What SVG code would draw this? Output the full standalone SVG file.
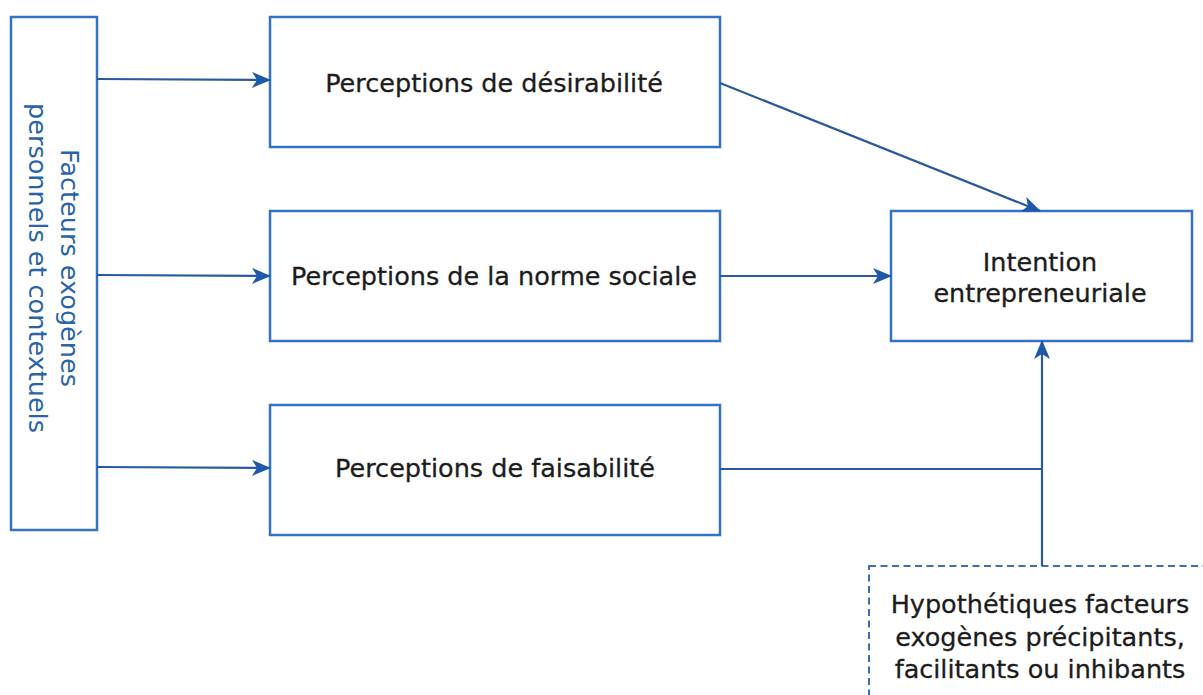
<svg xmlns="http://www.w3.org/2000/svg" width="1203" height="695" viewBox="0 0 1203 695">
<style>
.box{fill:#fff;stroke:#3472c4;stroke-width:2.5}
.dash{fill:#fff;stroke:#3d6fb0;stroke-width:2;stroke-dasharray:7 4.5}
.t{font-family:"DejaVu Sans",Verdana,sans-serif;font-size:25.5px;fill:#1c1c1c;text-anchor:middle;stroke:#1c1c1c;stroke-width:0.3}
.vt{font-family:"DejaVu Sans",Verdana,sans-serif;font-size:25.5px;fill:#2a64a8;text-anchor:middle}
.c{fill:none;stroke:#2a5a9e;stroke-width:2.2}
</style>
<defs>
<marker id="a" viewBox="0 0 19 17" refX="18" refY="8.5" markerWidth="19" markerHeight="17" markerUnits="userSpaceOnUse" orient="auto">
<path d="M0,0.5 L19,8.5 L0,16.5 L5,8.5 Z" fill="#1e58a8"/>
</marker>
</defs>
<rect width="1203" height="695" fill="#fff"/>
<g id="facteurs">
<rect class="box" x="11" y="17" width="86" height="513"/>
<text class="vt" transform="translate(54,268) rotate(90)"><tspan x="0" y="-7">Facteurs exogènes</tspan><tspan x="0" y="25">personnels et contextuels</tspan></text>
</g>
<g id="desirabilite">
<rect class="box" x="270" y="17" width="450" height="130"/>
<text class="t" x="494" y="92">Perceptions de désirabilité</text>
</g>
<g id="norme">
<rect class="box" x="270" y="211" width="450" height="130"/>
<text class="t" x="494" y="285">Perceptions de la norme sociale</text>
</g>
<g id="faisabilite">
<rect class="box" x="270" y="405" width="450" height="130"/>
<text class="t" x="495" y="477">Perceptions de faisabilité</text>
</g>
<g id="intention">
<rect class="box" x="891" y="211" width="301" height="130"/>
<text class="t" x="1040" y="271">Intention</text>
<text class="t" x="1040" y="302">entrepreneuriale</text>
</g>
<g id="hypothetiques">
<rect class="dash" x="869" y="566" width="345" height="140"/>
<text class="t" x="1040" y="613">Hypothétiques facteurs</text>
<text class="t" x="1040" y="646">exogènes précipitants,</text>
<text class="t" x="1040" y="678">facilitants ou inhibants</text>
</g>
<g id="connectors">
<line class="c" x1="97" y1="79" x2="270" y2="80" marker-end="url(#a)"/>
<line class="c" x1="97" y1="275" x2="270" y2="276" marker-end="url(#a)"/>
<line class="c" x1="97" y1="467" x2="270" y2="468" marker-end="url(#a)"/>
<line class="c" x1="720" y1="83" x2="1040" y2="211" marker-end="url(#a)"/>
<line class="c" x1="720" y1="276" x2="891" y2="276" marker-end="url(#a)"/>
<polyline class="c" points="720,469 1042,469"/>
<line class="c" x1="1042" y1="566" x2="1042" y2="341" marker-end="url(#a)"/>
</g>
</svg>
